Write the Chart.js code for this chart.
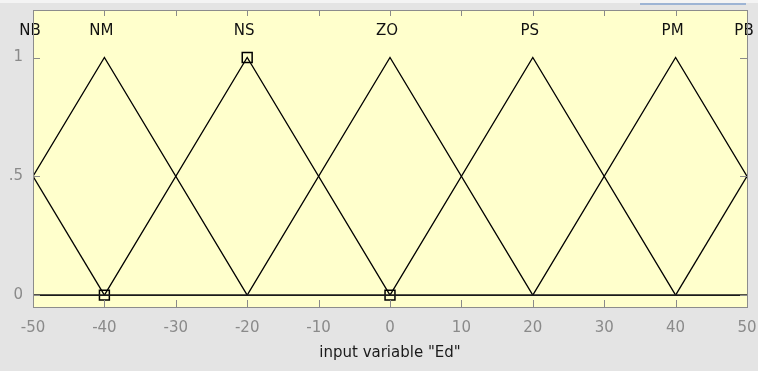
<!DOCTYPE html>
<html>
<head>
<meta charset="utf-8">
<script src="https://cdn.jsdelivr.net/npm/chart.js@4"></script>
<style>
    html, body { margin: 0; padding: 0; }
    body { background: #e4e4e4; width: 758px; height: 371px; overflow: hidden; position: relative; }
    #topStrip { position: absolute; left: 0; top: 0; width: 758px; height: 3px; background: #f4f4f4; }
    #winLine { position: absolute; left: 640px; top: 3px; width: 106px; height: 2px; background: #9db4d4; }
    canvas { position: absolute; left: 0; top: 0; }
</style>
</head>
<body>
<div id="topStrip"></div>
<div id="winLine"></div>
<canvas id="mfChart" width="758" height="371"></canvas>
<script>
// membership functions of input "Ed" (triangles: left foot, peak, right foot)
const mfNames = ['NB', 'NM', 'NS', 'ZO', 'PS', 'PM', 'PB'];
const mfLeft  = [-80, -60, -40, -20, 0, 20, 40];
const mfPeak  = [-60, -40, -20, 0, 20, 40, 60];
const mfRight = [-40, -20, 0, 20, 40, 60, 80];

// selected function (NS) drag handles
const handleX = [-40, -20, 0];
const handleY = [0, 1, 0];

// axis range and ticks
const xRange = [-50, 50];
const yRange = [-0.05, 1.2];
const xTickValues = [-50, -40, -30, -20, -10, 0, 10, 20, 30, 40, 50];
const yTickValues = [0, 0.5, 1];
const yTickLabels = ['0', '.5', '1'];
const xTitle = 'input variable "Ed"';

const FONT = 'DejaVu Sans';

function buildDatasets() {
    const sets = [];
    // zero line across the whole universe
    sets.push({
        data: [{ x: xRange[0], y: 0 }, { x: xRange[1], y: 0 }],
        borderColor: '#1a1a1a', borderWidth: 1.6, pointRadius: 0
    });
    for (let i = 0; i < mfNames.length; i++) {
        sets.push({
            data: [
                { x: mfLeft[i], y: 0 },
                { x: mfPeak[i], y: 1 },
                { x: mfRight[i], y: 0 }
            ],
            borderColor: '#000', borderWidth: 1.3, pointRadius: 0
        });
    }
    sets.push({
        data: handleX.map((x, i) => ({ x: x, y: handleY[i] })),
        showLine: false,
        pointStyle: 'rect', pointRadius: 7, pointBorderWidth: 1.5,
        pointBorderColor: '#000', pointBackgroundColor: 'rgba(0,0,0,0)',
        clip: false
    });
    return sets;
}

// yellow plot area, mf labels, box and inward ticks
const plotDecor = {
    id: 'plotDecor',
    beforeDatasetsDraw(chart) {
        const { ctx, chartArea: a } = chart;
        ctx.save();
        ctx.fillStyle = '#ffffcc';
        ctx.fillRect(a.left, a.top, a.right - a.left, a.bottom - a.top);
        ctx.restore();
    },
    afterDatasetsDraw(chart) {
        const { ctx, chartArea: a, scales } = chart;
        const xs = scales.x, ys = scales.y;
        ctx.save();
        // function names above the peaks (clamped to the axis range)
        ctx.font = '15px "' + FONT + '"';
        ctx.fillStyle = '#111';
        ctx.textAlign = 'center';
        ctx.textBaseline = 'middle';
        const labelY = ys.getPixelForValue(1.11);
        mfNames.forEach((name, i) => {
            const px = Math.min(Math.max(mfPeak[i], xRange[0]), xRange[1]);
            ctx.fillText(name, xs.getPixelForValue(px) - 3, labelY);
        });
        // ticks pointing into the box
        ctx.strokeStyle = '#8a8a8a';
        ctx.lineWidth = 1;
        ctx.beginPath();
        xTickValues.forEach(v => {
            const px = Math.round(xs.getPixelForValue(v)) + 0.5;
            ctx.moveTo(px, a.bottom); ctx.lineTo(px, a.bottom - 7);
            ctx.moveTo(px, a.top); ctx.lineTo(px, a.top + 6);
        });
        yTickValues.forEach(v => {
            const py = Math.round(ys.getPixelForValue(v)) + 0.5;
            ctx.moveTo(a.left, py); ctx.lineTo(a.left + 7, py);
            ctx.moveTo(a.right, py); ctx.lineTo(a.right - 7, py);
        });
        ctx.stroke();
        // box
        ctx.strokeStyle = '#8c8c8c';
        ctx.strokeRect(Math.round(a.left) + 0.5, Math.round(a.top) + 0.5,
            Math.round(a.right - a.left), Math.round(a.bottom - a.top));
        ctx.restore();
    }
};

new Chart(document.getElementById('mfChart').getContext('2d'), {
    type: 'scatter',
    data: { datasets: buildDatasets() },
    options: {
        responsive: false,
        animation: false,
        showLine: true,
        layout: { padding: { top: 10, right: 11, left: 0, bottom: 0 } },
        plugins: { legend: { display: false }, tooltip: { enabled: false } },
        elements: { line: { tension: 0, fill: false } },
        scales: {
            x: {
                type: 'linear',
                min: xRange[0], max: xRange[1],
                afterBuildTicks: s => { s.ticks = xTickValues.map(v => ({ value: v })); },
                afterFit: s => {
                    s.height = 64;
                    s.paddingLeft = 0; s.paddingRight = 0;
                },
                grid: { display: false, drawTicks: false },
                border: { display: false },
                ticks: {
                    color: '#8a8a8a', padding: 12, maxRotation: 0, autoSkip: false,
                    font: { family: FONT, size: 15 }
                },
                title: {
                    display: true, text: xTitle, color: '#1a1a1a',
                    font: { family: FONT, size: 15 }, padding: { top: 4, bottom: 9 }
                }
            },
            y: {
                type: 'linear',
                min: yRange[0], max: yRange[1],
                afterBuildTicks: s => { s.ticks = yTickValues.map(v => ({ value: v })); },
                afterFit: s => {
                    s.width = 33;
                    s.paddingTop = 0; s.paddingBottom = 0;
                },
                grid: { display: false, drawTicks: false },
                border: { display: false },
                ticks: {
                    color: '#8a8a8a', padding: 10, autoSkip: false,
                    font: { family: FONT, size: 15 },
                    callback: v => yTickLabels[yTickValues.indexOf(v)]
                }
            }
        }
    },
    plugins: [plotDecor]
});
</script>
</body>
</html>
